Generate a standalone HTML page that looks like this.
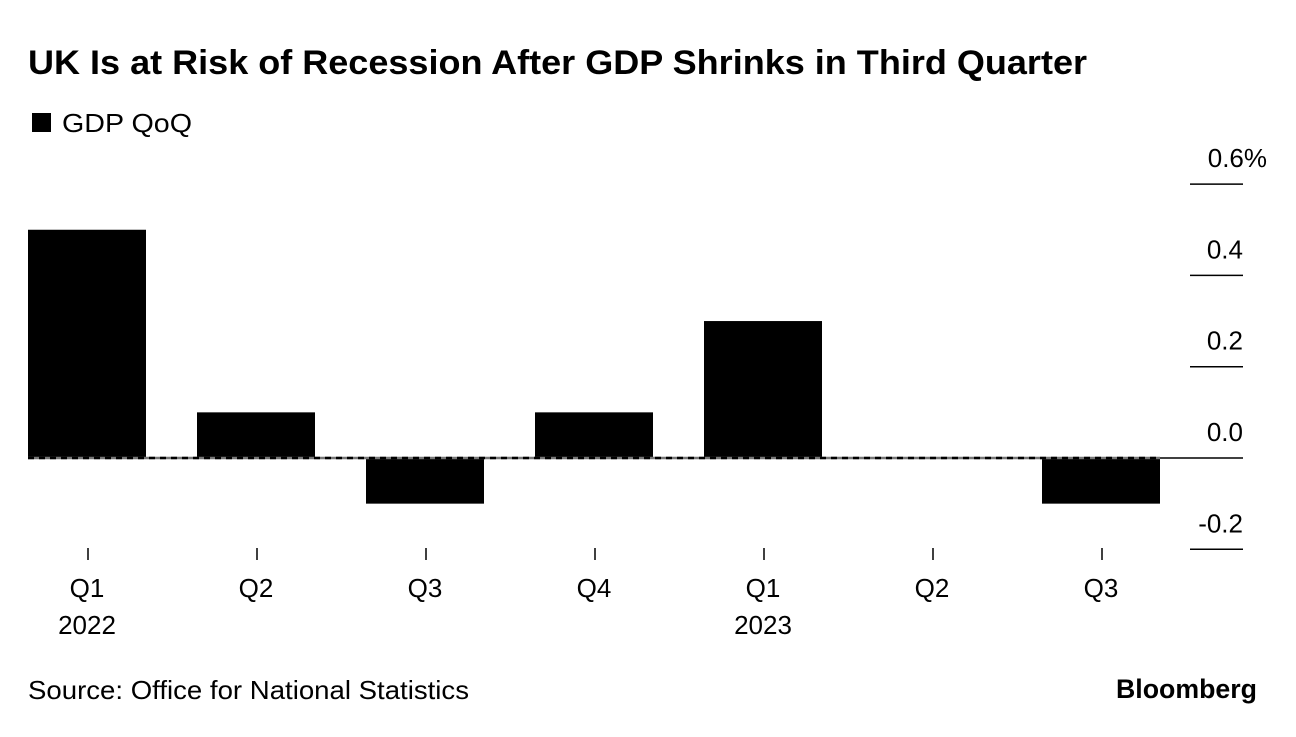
<!DOCTYPE html>
<html><head><meta charset="utf-8"><style>
body{margin:0;background:#fff;width:1296px;height:732px;overflow:hidden;font-family:"Liberation Sans",Arial,sans-serif;}
</style></head><body>
<svg width="1296" height="732" xmlns="http://www.w3.org/2000/svg" font-family="Liberation Sans, Arial, sans-serif">
<text x="28" y="74" font-size="34" font-weight="bold" fill="#000" textLength="1059" lengthAdjust="spacingAndGlyphs">UK Is at Risk of Recession After GDP Shrinks in Third Quarter</text>
<g>
<rect x="32" y="113" width="19" height="19" fill="#000"/>
<text x="62" y="132" font-size="26" fill="#000" textLength="130" lengthAdjust="spacingAndGlyphs">GDP QoQ</text>
</g>
<g id="grid"></g>
<g id="bars"></g>
<g id="xaxis"></g>
<text x="28" y="699" font-size="26" fill="#000" textLength="441" lengthAdjust="spacingAndGlyphs">Source: Office for National Statistics</text>
<text x="1257" y="698" font-size="27" font-weight="bold" text-anchor="end" fill="#000" textLength="141" lengthAdjust="spacingAndGlyphs">Bloomberg</text>
</svg>
<script>
const categories=["Q1","Q2","Q3","Q4","Q1","Q2","Q3"];
const years=["2022","","","","2023","",""];
const values=[0.5,0.1,-0.1,0.1,0.3,0.0,-0.1];
const yTicks=[0.6,0.4,0.2,0.0,-0.2];
const yTickLabels=["0.6%","0.4","0.2","0.0","-0.2"];
const NS="http://www.w3.org/2000/svg";
function y(v){return 458-v*456.5;}
function xc(i){return 87+i*169;}
function mk(t,a,p){const e=document.createElementNS(NS,t);for(const k in a)e.setAttribute(k,a[k]);p.appendChild(e);return e;}
const grid=document.getElementById('grid'),bars=document.getElementById('bars'),xa=document.getElementById('xaxis');
yTicks.forEach((v,i)=>{
 const l=mk('line',{x1:1190,x2:1243,y1:y(v),y2:y(v),stroke:'#000','stroke-width':1.5},grid);
 
 
 const t=mk('text',{x:i==0?1267:1243,y:y(v)-17,'font-size':26,'text-anchor':'end',fill:'#000'},grid);
 t.textContent=yTickLabels[i];
 
 
});
values.forEach((v,i)=>{
 const top=Math.min(y(v),y(0)),h=Math.abs(y(v)-y(0));
 const r=mk('rect',{x:xc(i)-59,y:top,width:118,height:h,fill:'#000'},bars);
 
 
 const tk=mk('line',{x1:xc(i)+1,x2:xc(i)+1,y1:548,y2:560,stroke:'#000','stroke-width':1.5},xa);
 
 
 const t=mk('text',{x:xc(i),y:597,'font-size':26,'text-anchor':'middle',fill:'#000'},xa);
 t.textContent=categories[i];
 
 
 if(years[i]){const t2=mk('text',{x:xc(i),y:634,'font-size':26,'text-anchor':'middle',fill:'#000'},xa);
 t2.textContent=years[i];
 
 }
});
const z1=mk('line',{x1:28,x2:1160,y1:y(0),y2:y(0),stroke:'#777','stroke-width':2.5},bars);


const z2=mk('line',{x1:28,x2:1160,y1:y(0),y2:y(0),stroke:'#000','stroke-width':2.5,'stroke-dasharray':'6 5'},bars);


const z3=mk('line',{x1:1160,x2:1190,y1:y(0),y2:y(0),stroke:'#000','stroke-width':1.5},bars);


</script>
</body></html>
